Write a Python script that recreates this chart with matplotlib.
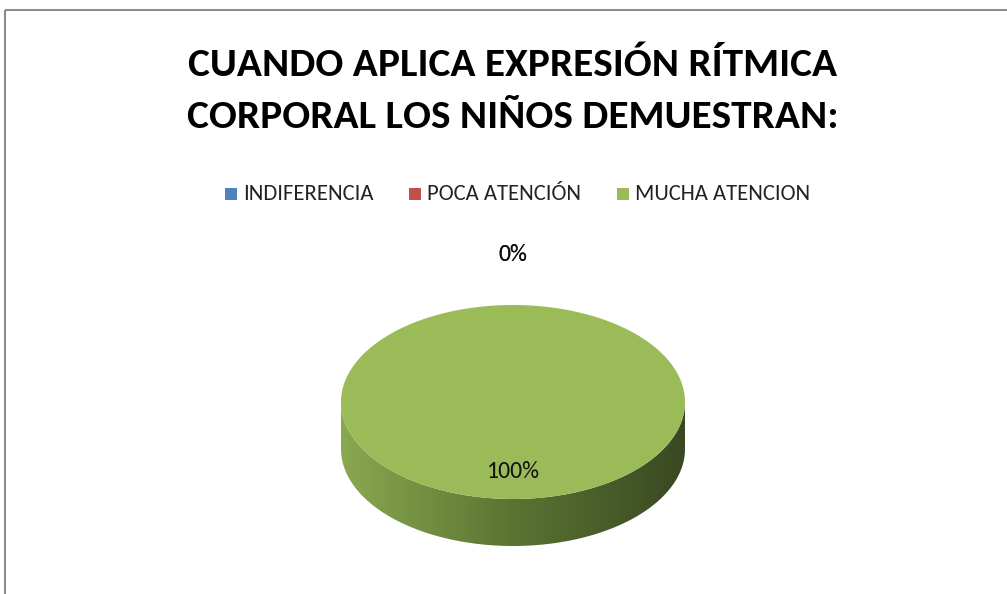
import numpy as np
import matplotlib
matplotlib.use("Agg")
import matplotlib.pyplot as plt
from matplotlib.patches import Polygon, Rectangle
from matplotlib.colors import LinearSegmentedColormap

title_lines = ["CUANDO APLICA EXPRESIÓN RÍTMICA", "CORPORAL LOS NIÑOS DEMUESTRAN:"]
categories = ["INDIFERENCIA", "POCA ATENCIÓN", "MUCHA ATENCION"]
values = [0, 0, 100]
colors = ["#4f81bd", "#c0504d", "#9bbb59"]
side_light = ["#6a8fc0", "#c46a68", "#8aa850"]
side_dark = ["#2a4468", "#6a2a28", "#3a4822"]

FONT = ["Carlito", "DejaVu Sans"]

fig = plt.figure(figsize=(10.07, 5.94), dpi=100)
ax = fig.add_axes([0, 0, 1, 1])
ax.set_xlim(0, 1007)
ax.set_ylim(594, 0)
ax.axis("off")

# chart area border
ax.plot([5, 1007], [10, 10], color="#8c8c8c", lw=1.5, solid_capstyle="butt")
ax.plot([5, 5], [10, 594], color="#8c8c8c", lw=1.5, solid_capstyle="butt")

for y, line in zip([62, 114], title_lines):
    ax.text(513, y, line, ha="center", va="center_baseline", fontsize=29.8, fontweight="bold",
            family=FONT, color="black")

# legend
leg_x = [231, 415, 623]
for x, lab, c in zip(leg_x, categories, colors):
    ax.add_patch(Rectangle((x - 6, 188), 12, 12, facecolor=c, edgecolor="none"))
    ax.text(x + 12, 200, lab, ha="left", va="baseline", fontsize=16.3, family=FONT, color="#222222")

# 3D pie geometry
cx, cy, rx, ry, depth = 513, 402, 172, 97, 47

def pt(a_deg, dy=0.0):
    a = np.radians(a_deg)
    return cx + rx * np.sin(a), cy - ry * np.cos(a) + dy

total = float(sum(values))
fracs = [v / total for v in values]
start = 0.0
angles = []
for f in fracs:
    angles.append((start, start + f * 360.0))
    start += f * 360.0

# sides (front half: 90..270 degrees, clockwise from top)
grad = np.linspace(0, 1, 256).reshape(1, -1)
for (a1, a2), cl, cd, v in zip(angles, side_light, side_dark, values):
    if v <= 0:
        continue
    lo, hi = max(a1, 90), min(a2, 270)
    if hi <= lo:
        continue
    t = np.linspace(lo, hi, 200)
    top = np.array([pt(a) for a in t])
    bot = np.array([pt(a, depth) for a in t[::-1]])
    poly = np.vstack([top, bot])
    patch = Polygon(poly, closed=True, facecolor="none", edgecolor="none")
    ax.add_patch(patch)
    cmap = LinearSegmentedColormap.from_list("side", [cl, "#5a7432", cd])
    im = ax.imshow(grad, cmap=cmap, aspect="auto",
                   extent=[cx - rx, cx + rx, cy + ry + depth, cy], zorder=2)
    im.set_clip_path(patch)

# top faces
for (a1, a2), c, v in zip(angles, colors, values):
    if v <= 0:
        continue
    t = np.linspace(a1, a2, 400)
    pts = [pt(a) for a in t]
    if a2 - a1 < 359.999:
        pts = [(cx, cy)] + pts
    ax.add_patch(Polygon(np.array(pts), closed=True, facecolor=c, edgecolor="none", zorder=3))

# data labels
for (a1, a2), v in zip(angles, values):
    mid = (a1 + a2) / 2.0
    lab = f"{v / total * 100:.0f}%"
    a = np.radians(mid)
    k = 0.78 if v > 0 else 1.454
    x, y = cx + k * rx * np.sin(a), cy - k * ry * np.cos(a)
    ax.text(x, y, lab, ha="center", va="baseline", fontsize=17, family=FONT,
            color="#111111", zorder=5)

fig.savefig("out.png", dpi=100)
